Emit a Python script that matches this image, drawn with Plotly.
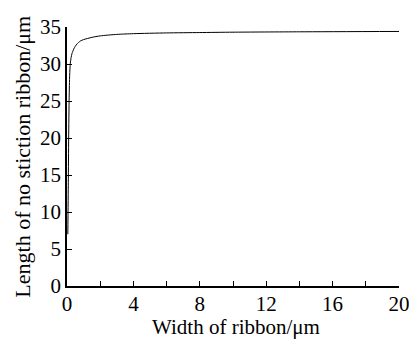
import plotly.graph_objects as go

width_um = [0.05, 0.08, 0.1, 0.13, 0.16, 0.2, 0.25, 0.3, 0.4, 0.5, 0.6, 0.8, 1.0, 1.5, 2.0, 3.0, 4.0, 6.0, 8.0, 10.0, 14.0, 20.0]
length_um = [7.0, 14.0, 20.0, 25.5, 28.5, 30.1, 30.9, 31.4, 32.0, 32.4, 32.7, 33.1, 33.3, 33.6, 33.8, 34.0, 34.1, 34.2, 34.25, 34.3, 34.35, 34.4]
x_title = "Width of ribbon/μm"
y_title = "Length of no stiction ribbon/μm"

fig = go.Figure()
fig.add_trace(go.Scatter(x=width_um, y=length_um, mode="lines",
                         line=dict(color="black", width=1, shape="spline", smoothing=0.6),
                         showlegend=False))

font = dict(family="'Liberation Serif', 'Times New Roman', serif", color="black")
fig.update_layout(
    width=409, height=339,
    margin=dict(l=59, r=7, t=7, b=61),
    paper_bgcolor="white", plot_bgcolor="white",
    font=dict(size=21, **font),
    xaxis=dict(range=[0, 20], dtick=4, tick0=0, ticks="inside", ticklen=5, tickwidth=1,
               tickcolor="black", showline=True, linecolor="black", linewidth=1.5,
               showgrid=False, zeroline=False, ticklabeloverflow="allow",
               ticklabelstandoff=-2,
               minor=dict(dtick=2, ticks="inside", ticklen=5, tickcolor="black"),
               tickfont=dict(size=21, **font)),
    yaxis=dict(range=[0, 35], dtick=5, tick0=0, ticks="inside", ticklen=5, tickwidth=1,
               tickcolor="black", showline=True, linecolor="black", linewidth=1.5,
               showgrid=False, zeroline=False, ticklabeloverflow="allow",
               tickfont=dict(size=21, **font)),
    annotations=[
        dict(text=x_title, xref="paper", yref="paper", x=0.51, y=-0.16, xanchor="center",
             yanchor="middle", showarrow=False, font=dict(size=21, **font)),
        dict(text=y_title, xref="paper", yref="paper", x=-0.135, y=0.5, xanchor="center",
             yanchor="middle", showarrow=False, textangle=-90, font=dict(size=22, **font)),
    ],
)
fig.write_html("out.html")
